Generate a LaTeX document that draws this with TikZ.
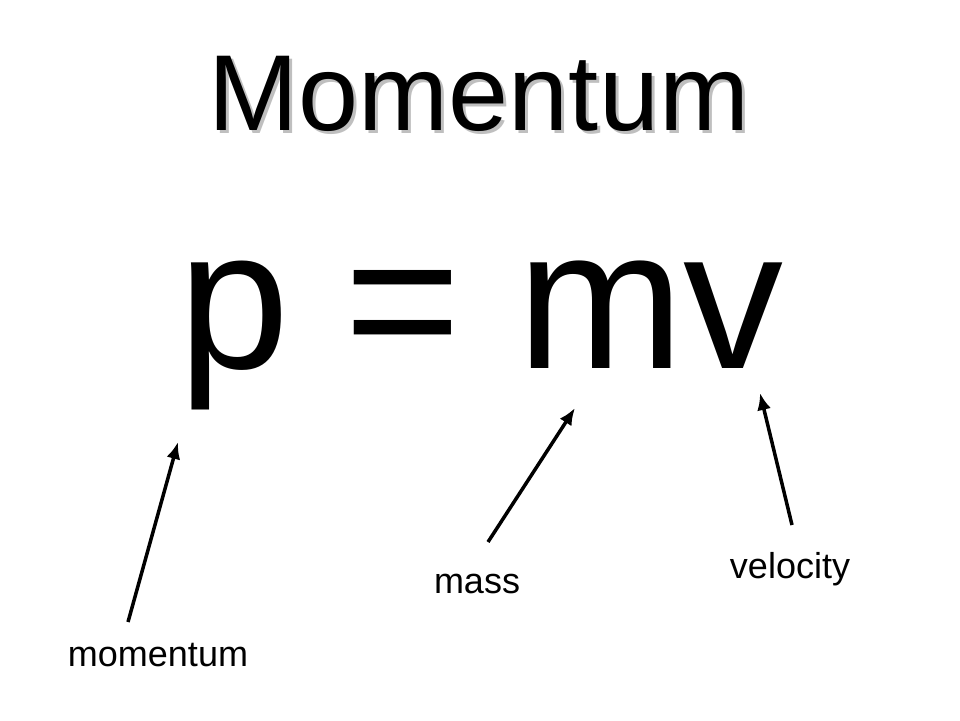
\documentclass[tikz,border=0pt]{standalone}
\usepackage{fontspec}
\setmainfont{Liberation Sans}
\usetikzlibrary{arrows.meta}
\begin{document}
\begin{tikzpicture}[x=1pt,y=-1pt,
  lbl/.style={font=\fontsize{36}{38}\selectfont,anchor=base},
  arr/.style={line width=3.5pt,-{Latex[length=17pt,width=14pt]}}]
\useasboundingbox (0,0) rectangle (960,720);
\node[anchor=base,text=gray!50] at (482,133) {\fontsize{108}{110}\selectfont Momentum};
\node (title) [anchor=base] at (479,130) {\fontsize{108}{110}\selectfont Momentum};
\node (eq) [anchor=base] at (481,368) {\fontsize{200}{202}\selectfont p = mv};
\node (mom) [lbl] at (158,666) {momentum};
\node (mass) [lbl] at (477,593) {mass};
\node (vel) [lbl] at (790,578) {velocity};
\coordinate (mS) at (128,622); \coordinate (mE) at (178,442);
\coordinate (aS) at (488,542); \coordinate (aE) at (575,408);
\coordinate (vS) at (792,525); \coordinate (vE) at (760,393);
\draw[arr] (mS) -- (mE);
\draw[arr] (aS) -- (aE);
\draw[arr] (vS) -- (vE);
\end{tikzpicture}
\end{document}
